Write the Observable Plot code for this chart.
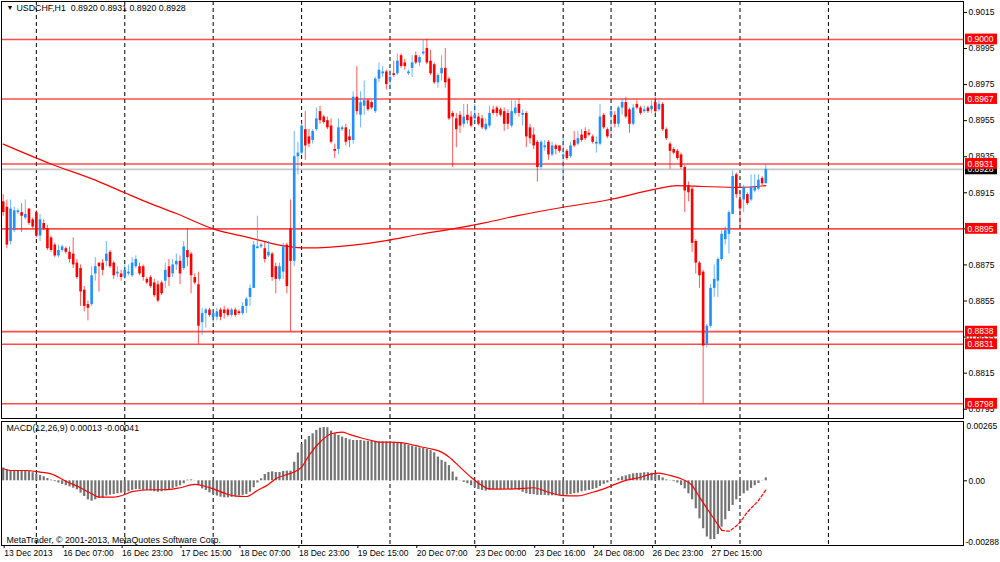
<!DOCTYPE html>
<html><head><meta charset="utf-8">
<script src="https://cdn.jsdelivr.net/npm/d3@7"></script>
<script src="https://cdn.jsdelivr.net/npm/@observablehq/plot@0.6"></script>
<style>
html,body{margin:0;padding:0;background:#fff;}
#wrap{position:relative;width:1000px;height:562px;overflow:hidden;background:#fff;}
#wrap svg{position:absolute;left:0;}
</style></head><body><div id="wrap"></div>
<script>
// ---- DATA (prices in pips: 8920 = 0.8920) ----
const symbol = "USDCHF,H1";
const opens = [
8910,8907,8888,8894,8904,8904,8901,8906,8900,8904,
8891,8898,8895,8890,8886,8880,8883,8884,8882,8881,
8876,8873,8861,8853,8853,8870,8876,8876,8877,8882,
8876,8870,8870,8868,8870,8869,8874,8874,8874,8867,
8868,8865,8864,8865,8866,8874,8870,8875,8877,8873,
8883,8881,8868,8864,8843,8848,8850,8846,8846,8850,
8850,8850,8847,8850,8849,8848,8852,8857,8862,8884,
8885,8884,8880,8881,8874,8867,8871,8886,8895,8877,
8935,8937,8950,8946,8944,8950,8960,8957,8955,8952,
8939,8939,8950,8951,8946,8944,8968,8958,8963,8966,
8965,8960,8978,8981,8982,8977,8981,8981,8991,8987,
8981,8984,8991,8987,8992,8995,8988,8986,8976,8981,
8984,8978,8959,8956,8958,8953,8958,8957,8956,8957,
8956,8950,8952,8961,8962,8961,8960,8959,8952,8959,
8964,8958,8959,8951,8947,8943,8929,8940,8943,8936,
8941,8941,8935,8938,8935,8944,8942,8947,8949,8948,
8946,8942,8942,8958,8950,8958,8958,8953,8962,8965,
8961,8953,8964,8962,8960,8962,8961,8965,8961,8964,
8950,8942,8939,8938,8936,8929,8919,8917,8888,8876,
8871,8831,8841,8862,8866,8878,8889,8892,8903,8925,
8911,8911,8914,8911,8916,8917,8923,8920];
const highs = [
8914,8911,8911,8907,8906,8909,8911,8906,8901,8905,
8903,8900,8897,8891,8887,8886,8886,8885,8885,8890,
8878,8875,8863,8855,8874,8879,8876,8878,8888,8883,
8877,8874,8872,8875,8875,8879,8880,8876,8875,8868,
8869,8867,8866,8866,8876,8878,8878,8881,8880,8888,
8895,8882,8870,8871,8851,8851,8851,8850,8851,8851,
8852,8851,8851,8851,8850,8854,8857,8864,8888,8902,
8887,8888,8888,8882,8876,8876,8887,8887,8911,8949,
8943,8954,8960,8950,8950,8962,8963,8958,8957,8956,
8942,8956,8952,8953,8950,8971,8985,8971,8977,8967,
8966,8979,8987,8985,8983,8983,8988,8992,8992,8989,
8983,8991,8993,8991,9000,9000,8994,8987,8981,8991,
8995,8979,8960,8959,8960,8964,8964,8960,8964,8959,
8958,8956,8963,8963,8963,8962,8962,8961,8966,8966,
8967,8961,8960,8953,8951,8944,8944,8944,8944,8943,
8942,8941,8946,8939,8943,8949,8949,8950,8951,8950,
8947,8946,8964,8959,8951,8963,8960,8963,8967,8968,
8962,8964,8966,8963,8963,8963,8966,8968,8966,8965,
8951,8943,8940,8939,8937,8930,8921,8918,8889,8877,
8872,8842,8864,8875,8879,8894,8896,8905,8927,8926,
8916,8919,8915,8925,8925,8925,8924,8931];
const lows = [
8902,8884,8886,8893,8903,8893,8900,8897,8895,8890,
8888,8894,8883,8882,8879,8879,8882,8881,8876,8873,
8867,8852,8849,8844,8852,8866,8860,8869,8874,8873,
8867,8868,8866,8867,8869,8868,8873,8869,8866,8864,
8862,8857,8854,8858,8862,8863,8868,8872,8864,8872,
8874,8859,8864,8831,8836,8840,8846,8843,8844,8844,
8845,8846,8846,8846,8847,8847,8848,8852,8862,8884,
8884,8876,8879,8866,8859,8866,8867,8859,8838,8874,
8925,8936,8933,8940,8942,8949,8953,8953,8950,8942,
8934,8936,8949,8941,8940,8942,8958,8951,8958,8960,
8961,8959,8976,8979,8972,8972,8979,8980,8984,8983,
8980,8979,8986,8985,8991,8986,8980,8975,8973,8977,
8973,8955,8929,8940,8948,8951,8953,8951,8953,8952,
8950,8949,8951,8958,8957,8957,8949,8950,8951,8958,
8957,8952,8940,8942,8939,8921,8928,8938,8933,8935,
8936,8937,8921,8933,8934,8940,8941,8943,8944,8946,
8942,8937,8941,8950,8945,8947,8951,8951,8958,8956,
8948,8952,8961,8958,8959,8959,8959,8959,8960,8949,
8944,8928,8936,8933,8928,8904,8910,8882,8870,8862,
8798,8829,8840,8857,8857,8877,8886,8881,8903,8912,
8896,8904,8908,8910,8915,8916,8919,8920];
const closes = [
8904,8886,8906,8905,8905,8902,8903,8898,8896,8891,
8900,8895,8884,8883,8880,8883,8885,8882,8878,8875,
8868,8860,8852,8851,8869,8874,8874,8872,8881,8874,
8869,8871,8868,8872,8871,8876,8878,8870,8868,8865,
8863,8858,8855,8859,8872,8868,8875,8877,8870,8885,
8879,8869,8865,8841,8848,8850,8847,8848,8849,8846,
8848,8847,8850,8847,8848,8852,8856,8862,8886,8885,
8886,8878,8882,8868,8867,8874,8885,8863,8877,8935,
8937,8952,8941,8942,8949,8956,8955,8954,8951,8943,
8938,8951,8951,8943,8944,8968,8960,8965,8966,8961,
8962,8978,8983,8982,8975,8979,8980,8988,8985,8985,
8982,8987,8987,8990,8993,8987,8981,8976,8980,8984,
8976,8956,8957,8950,8952,8957,8955,8952,8958,8953,
8951,8953,8959,8959,8959,8958,8953,8953,8960,8962,
8959,8959,8946,8945,8941,8929,8943,8941,8936,8941,
8939,8938,8936,8934,8941,8941,8945,8944,8945,8947,
8943,8943,8957,8951,8946,8960,8953,8962,8965,8957,
8953,8962,8962,8959,8961,8960,8963,8960,8964,8950,
8945,8938,8937,8934,8929,8916,8915,8887,8876,8869,
8830,8841,8862,8867,8878,8892,8894,8904,8924,8914,
8906,8918,8909,8918,8918,8922,8920,8928];

// moving average (red curve), read at these bar indices
const maIdx = [0,13,25,33,40,47,57,67,75,81,85,95,104,113,122,131,140,152,164,177,183,190,200,207];
const maVal = [8942,8931,8922,8915,8909,8903.5,8895,8890,8886,8884.5,8884.5,8886,8888.5,8892,8895,8898.5,8902.5,8907,8911,8917,8919,8918.5,8918,8919];

// horizontal level lines and current bid
const levels = [9000, 8967, 8931, 8895, 8838, 8831, 8798];
const bid = 8928;
const priceTicks = [9015,8995,8975,8955,8935,8915,8895,8875,8855,8835,8815,8795];

// MACD histogram (units of 0.00001)
const macdHist = [
57,49,46,46,46,46,46,42,36,28,
24,18,10,3,-4,-10,-16,-22,-27,-33,
-40,-55,-70,-85,-91,-85,-79,-76,-68,-64,
-61,-58,-55,-52,-49,-43,-39,-40,-43,-43,
-46,-49,-51,-49,-45,-40,-34,-28,-22,-13,
3,4,-1,-21,-36,-43,-54,-61,-68,-73,
-76,-76,-74,-71,-68,-65,-61,-51,-31,-10,
9,28,37,40,37,37,42,43,43,83,
124,162,183,198,210,225,235,238,237,222,
210,202,195,189,183,180,180,180,177,177,
176,174,173,173,173,173,171,170,167,162,
158,155,150,147,144,140,135,125,106,91,
83,68,39,16,-1,-7,-13,-22,-31,-39,
-43,-46,-43,-40,-39,-39,-39,-39,-39,-39,
-43,-51,-58,-61,-62,-65,-65,-65,-67,-67,
-67,-67,-67,-64,-61,-58,-55,-49,-46,-43,
-39,-34,-25,-16,-10,-3,1,10,18,22,
27,31,33,34,36,36,34,31,24,13,
4,-1,-4,-10,-21,-36,-58,-85,-125,-170,
-214,-251,-263,-262,-240,-207,-174,-137,-110,-85,
-70,-58,-46,-34,-22,-12,-1,13];
// MACD signal line (units of 0.00001)
const sigIdx = [0,2,6,10,13,17,21,24,26,30,33,35,40,44,48,52,54,57,60,63,66,69,72,74,77,79,81,83,86,89,92,94,97,100,102,105,108,111,113,116,119,121,124,127,130,132,135,139,144,148,152,156,160,163,166,169,173,176,178,181,184,187,189,192,195,197,198,200,202,205,207];
const sigVal = [54,46,46,39,31,-2,-31,-58,-73,-73,-61,-48,-40,-40,-31,-16,-21,-36,-55,-68,-70,-43,-16,9,28,39,61,113,173,210,217,207,192,180,173,173,170,161,153,143,128,106,61,16,-21,-36,-37,-36,-31,-51,-66,-67,-51,-36,-16,2,16,31,34,24,9,-21,-73,-147,-220,-225,-214,-185,-140,-88,-41];
const macdTop = 0.00265, macdBottom = -0.00288;

// time axis
const timeTickIdx = [0,16,32,48,64,80,96,112,128,144,160,176,192];
const timeLabels = ["13 Dec 2013","16 Dec 07:00","16 Dec 23:00","17 Dec 15:00","18 Dec 07:00","18 Dec 23:00","19 Dec 15:00","20 Dec 07:00","23 Dec 00:00","23 Dec 16:00","24 Dec 08:00","26 Dec 23:00","27 Dec 15:00"];
const gridIdx = [9,33,57,81,105,128,152,165,177,200,224];

// ---- BUILD ----
const P = 1e4, M = 1e5;
const candles = opens.map((o,i)=>({i, o:o/P, h:highs[i]/P, l:lows[i]/P, c:closes[i]/P, up: closes[i] >= opens[i]}));
const up = candles.filter(d=>d.up), dn = candles.filter(d=>!d.up);
const ma = maIdx.map((i,k)=>({i, v: maVal[k]/P}));
const lv = levels.map(v=>v/P);
const bidArr = [bid/P];
const hist = macdHist.map((v,i)=>({i, v: v/M}));
const sig = sigIdx.map((i,k)=>({i, v: sigVal[k]/M}));
const sigSolid = sig.filter(d=>d.i<=195), sigDash = sig.filter(d=>d.i>=195);
const f4 = d3.format(".4f"), f5 = d3.format(".5f");
const last = candles[candles.length-1];
const header = `${symbol}  ${f4(last.o)} ${f4(last.h)} ${f4(last.l)} ${f4(last.c)}`;
const macdTitle = `MACD(12,26,9) ${f5(hist[hist.length-1].v)} ${f5(sig[sig.length-1].v).replace("−","-")}`;

const XD = [-0.46, 260.67];
const BX1 = 261.2, BX2 = 269.9; // label box extent (bar units, right margin)
const FONT = "'Liberation Sans', Arial, sans-serif";
const RED = "#ff0000", BLUE = "#1e90ff";
const gridStyle = {stroke:"#000", strokeDasharray:"4,3", strokeWidth:1};

const main = Plot.plot({
  width: 1000, height: 420,
  marginLeft: 1, marginRight: 37, marginTop: 1, marginBottom: 2,
  x: {domain: XD, axis: null, label: null},
  y: {domain: [0.878985, 0.902107], axis: null, label: null},
  style: {fontFamily: FONT, fontSize: "8.5px", background: "transparent", overflow: "visible"},
  marks: [
    Plot.ruleX(gridIdx, gridStyle),
    Plot.ruleY(bidArr, {stroke:"#c8c8c8", strokeWidth:1.6}),
    Plot.ruleY(lv, {stroke:RED, strokeOpacity:0.7, strokeWidth:1.6}),
    Plot.line(ma, {x:"i", y:"v", stroke:RED, strokeWidth:1.2, curve:"monotone-x"}),
    Plot.ruleX(up, {x:"i", y1:"l", y2:"h", stroke:BLUE, strokeOpacity:0.65, strokeWidth:1}),
    Plot.ruleX(dn, {x:"i", y1:"l", y2:"h", stroke:RED, strokeOpacity:0.65, strokeWidth:1}),
    Plot.ruleX(up, {x:"i", y1:"o", y2:"c", stroke:BLUE, strokeWidth:2.6}),
    Plot.ruleX(dn, {x:"i", y1:"o", y2:"c", stroke:RED, strokeWidth:2.6}),
    Plot.frame({stroke:"#000", strokeWidth:1}),
    Plot.axisY(priceTicks.map(v=>v/P), {anchor:"right", label:null, tickFormat:f4, tickSize:3, tickPadding:2, fill:"#000"}),
    Plot.rect(bidArr, {x1:BX1, x2:BX2, y1:d=>d-0.0003, y2:d=>d+0.0003, fill:"#000"}),
    Plot.text(bidArr, {x:BX1, y:d=>d, dx:2, text:f4, fill:"#fff", textAnchor:"start"}),
    Plot.rect(lv, {x1:BX1, x2:BX2, y1:d=>d-0.0003, y2:d=>d+0.0003, fill:RED}),
    Plot.text(lv, {x:BX1, y:d=>d, dx:2, text:f4, fill:"#fff", textAnchor:"start"}),
    Plot.text(["▼"], {frameAnchor:"top-left", dx:5, dy:4, fontSize:7, fill:"#000"}),
    Plot.text([header], {frameAnchor:"top-left", dx:15, dy:3, fill:"#000", fontSize:8.8})
  ]
});
main.style.top = "0px";

const macd = Plot.plot({
  width: 1000, height: 142,
  marginLeft: 1, marginRight: 37, marginTop: 1, marginBottom: 17,
  x: {domain: XD, axis: null, label: null},
  y: {domain: [-0.002888, 0.002647], axis: null, label: null},
  style: {fontFamily: FONT, fontSize: "8.5px", background: "transparent", overflow: "visible"},
  marks: [
    Plot.ruleX(gridIdx, gridStyle),
    Plot.ruleX(hist, {x:"i", y1:0, y2:"v", stroke:"#747474", strokeWidth:2.2}),
    Plot.line(sigSolid, {x:"i", y:"v", stroke:RED, strokeWidth:1.2, curve:"monotone-x"}),
    Plot.line(sigDash, {x:"i", y:"v", stroke:RED, strokeWidth:1.2, strokeDasharray:"3,2", curve:"monotone-x"}),
    Plot.frame({stroke:"#000", strokeWidth:1}),
    Plot.axisX(timeTickIdx, {anchor:"bottom", label:null, tickFormat:(d)=>timeLabels[timeTickIdx.indexOf(d)], tickSize:3, tickPadding:1, textAnchor:"start", dx:1, fill:"#000"}),
    Plot.axisY([0], {anchor:"right", label:null, tickFormat:()=>"0.00", tickSize:3, tickPadding:2, fill:"#000"}),
    Plot.text([macdTop], {frameAnchor:"top-right", dx:3, dy:1, text:d=>d.toFixed(5), textAnchor:"start", lineAnchor:"top", fill:"#000"}),
    Plot.text([macdBottom], {frameAnchor:"bottom-right", dx:2, dy:-1, text:d=>d.toFixed(5), textAnchor:"start", lineAnchor:"bottom", fill:"#000"}),
    Plot.text([macdTitle], {frameAnchor:"top-left", dx:5, dy:3, fill:"#000", fontSize:8.8}),
    Plot.text(["MetaTrader, © 2001-2013, MetaQuotes Software Corp."], {frameAnchor:"bottom-left", dx:5, dy:-3, fill:"#000", fontSize:8.8})
  ]
});
macd.style.top = "420px";

const wrap = document.getElementById("wrap");
wrap.appendChild(main);
wrap.appendChild(macd);
</script>
</body></html>
